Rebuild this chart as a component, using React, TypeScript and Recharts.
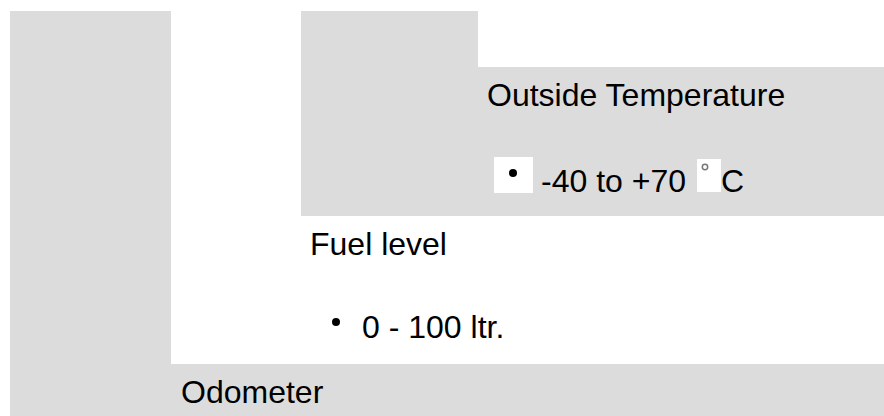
import { ComposedChart, ReferenceArea, Scatter, XAxis, YAxis } from 'recharts';

// nested list panels, in chart units (x: 0..884, y: 0..416 from top)
const panelNames = ['Odometer', 'Fuel level', 'Outside Temperature', 'notch'];
const panelX1 = [10, 171, 301, 478];
const panelX2 = [884, 884, 884, 884];
const panelY1 = [11, 11, 11, 11];
const panelY2 = [416, 364, 216, 67];
const panelShade = ['grey', 'white', 'grey', 'white'];

// small white image backgrounds (bullet image + degree image)
const imageBoxX1 = [494, 697];
const imageBoxX2 = [533, 721];
const imageBoxY1 = [157, 159];
const imageBoxY2 = [193, 192];

// text rows: start x and baseline y
const labelTexts = ['Outside Temperature', '-40 to +70', 'C', 'Fuel level', '0 - 100 ltr.', 'Odometer'];
const labelX = [487, 541, 721, 310, 362, 181];
const labelY = [106, 192, 192, 255, 338, 403];

// list bullets
const bulletX = [513, 336];
const bulletY = [173, 322];

// degree sign
const degreeX = [705];
const degreeY = [167];

const GREY = '#dcdcdc';
const FONT = '"Liberation Sans", Arial, sans-serif';

const labels = labelTexts.map((text, i) => ({ x: labelX[i], y: labelY[i], text }));
const bullets = bulletX.map((x, i) => ({ x, y: bulletY[i] }));
const degrees = degreeX.map((x, i) => ({ x, y: degreeY[i] }));

function LabelShape(props: any) {
  const { cx, cy, payload } = props;
  return (
    <text x={cx} y={cy} fontSize={32} fontFamily={FONT} fill="#000" textAnchor="start">
      {payload.text}
    </text>
  );
}

function BulletShape(props: any) {
  return <circle cx={props.cx} cy={props.cy} r={4} fill="#000" />;
}

function DegreeShape(props: any) {
  return <circle cx={props.cx} cy={props.cy} r={2.7} fill="none" stroke="#777" strokeWidth={1.5} />;
}

export default function App() {
  return (
    <div style={{ position: 'absolute', left: 0, top: 0, background: '#fff' }}>
      <ComposedChart width={884} height={416} margin={{ top: 0, right: 0, bottom: 0, left: 0 }}>
        <XAxis type="number" dataKey="x" domain={[0, 884]} hide allowDataOverflow />
        <YAxis type="number" dataKey="y" domain={[0, 416]} reversed hide allowDataOverflow />
        {panelNames.map((name, i) => (
          <ReferenceArea
            key={name}
            x1={panelX1[i]}
            x2={panelX2[i]}
            y1={panelY1[i]}
            y2={panelY2[i]}
            fill={panelShade[i] === 'grey' ? GREY : '#ffffff'}
            fillOpacity={1}
            stroke="none"
            ifOverflow="visible"
          />
        ))}
        {imageBoxX1.map((x1, i) => (
          <ReferenceArea
            key={'img' + i}
            x1={x1}
            x2={imageBoxX2[i]}
            y1={imageBoxY1[i]}
            y2={imageBoxY2[i]}
            fill="#ffffff"
            fillOpacity={1}
            stroke="none"
            ifOverflow="visible"
          />
        ))}
        <Scatter data={bullets} shape={BulletShape} isAnimationActive={false} />
        <Scatter data={degrees} shape={DegreeShape} isAnimationActive={false} />
        <Scatter data={labels} shape={LabelShape} isAnimationActive={false} />
      </ComposedChart>
    </div>
  );
}
